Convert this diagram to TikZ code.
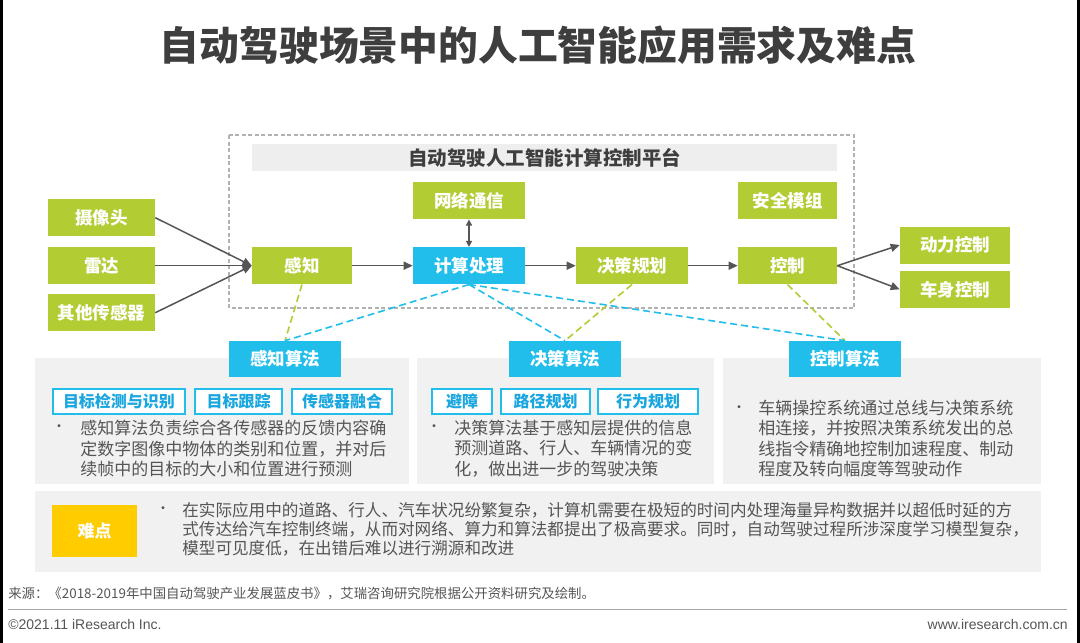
\documentclass[tikz,border=0pt]{standalone}
\usepackage{fontspec}
\setmainfont{Noto Sans CJK SC}
\newfontfamily\latinfont{Liberation Sans}
\usetikzlibrary{arrows.meta,positioning}

\definecolor{aigreen}{RGB}{178,204,52}
\definecolor{aiblue}{RGB}{33,190,236}
\definecolor{aitagblue}{RGB}{26,166,222}
\definecolor{aiyellow}{RGB}{255,204,0}
\definecolor{aipanel}{RGB}{241,241,242}
\definecolor{aibar}{RGB}{238,238,238}
\definecolor{aitext}{RGB}{85,85,85}
\definecolor{aititle}{RGB}{62,62,62}
\newcommand{\aifs}[2]{\fontsize{#1}{#2}\selectfont}

\begin{document}
\begin{tikzpicture}[x=1pt,y=-1pt,>={Triangle[length=9pt,width=8pt]},semithick]
\tikzstyle{greenbox}=[fill=aigreen,text=white,font=\bfseries\aifs{17.5}{20},minimum height=37pt,inner sep=0pt]
\tikzstyle{bluebox}=[greenbox,fill=aiblue]
\tikzstyle{algbox}=[bluebox,minimum width=112pt,minimum height=36pt]
\tikzstyle{tagbox}=[draw=aiblue,line width=1.6pt,fill=white,text=aitagblue,font=\bfseries\aifs{16}{18},minimum height=25pt,inner sep=0pt]
\tikzstyle{bodytext}=[text=aitext,font=\aifs{17}{20.5},align=left,inner sep=0pt,anchor=west]
\tikzstyle{dot}=[text=aitext,font=\aifs{14}{16},inner sep=0pt]
\tikzstyle{flow}=[->,draw=aitext,line width=1.5pt]
\tikzstyle{bluelink}=[draw=aiblue,line width=1.6pt,dash pattern=on 7pt off 4pt]
\tikzstyle{greenlink}=[draw=aigreen,line width=1.6pt,dash pattern=on 7pt off 4pt]

\useasboundingbox (0,0) rectangle (1080,643);
\fill[white] (0,0) rectangle (1080,643);
\fill[black] (0,0) rectangle (3,643);
\fill[black] (1077,0) rectangle (1080,643);

% Titulo
\node[font=\bfseries\aifs{39.8}{44},text=aititle] (title) at (538,45) {自动驾驶场景中的人工智能应用需求及难点};

% Plataforma
\draw[gray!60,line width=1.2pt,dash pattern=on 4pt off 2.5pt] (229,135) rectangle (854,308);
\fill[aibar] (252,144) rectangle (837,171);
\node[font=\bfseries\aifs{19.5}{22},text=aititle] (platform) at (544.5,157.5) {自动驾驶人工智能计算控制平台};

% Sensores
\node[greenbox,minimum width=107pt] (cam) at (101.5,217.7) {摄像头};
\node[greenbox,minimum width=107pt] (radar) at (101.5,265.7) {雷达};
\node[greenbox,minimum width=107pt] (other) at (101.5,312.7) {其他传感器};

% Modulos
\node[greenbox,minimum width=100pt] (perc) at (302,265.7) {感知};
\node[bluebox,minimum width=112pt] (comp) at (469,265.7) {计算处理};
\node[greenbox,minimum width=112pt] (net) at (469,200.7) {网络通信};
\node[greenbox,minimum width=112pt] (dec) at (632,265.7) {决策规划};
\node[greenbox,minimum width=99pt] (ctrl) at (787.5,265.7) {控制};
\node[greenbox,minimum width=99pt] (safe) at (787.5,200.7) {安全模组};
\node[greenbox,minimum width=110pt] (power) at (955,245) {动力控制};
\node[greenbox,minimum width=110pt] (body) at (955,289.3) {车身控制};

% Flechas
\draw[flow] (cam.east) -- (perc.west);
\draw[flow] (radar.east) -- (perc.west);
\draw[flow] (other.east) -- (perc.west);
\draw[flow] (perc) -- (comp);
\draw[flow] (comp) -- (dec);
\draw[flow] (dec) -- (ctrl);
\draw[flow] (ctrl.east) -- (power.west);
\draw[flow] (ctrl.east) -- (body.west);
\draw[flow,<->,>={Triangle[length=6pt,width=6pt]}] (net) -- (comp);

% Paneles
\fill[aipanel] (35,358) rectangle (409,484);
\fill[aipanel] (417,358) rectangle (714,484);
\fill[aipanel] (723,358) rectangle (1041,484);

\node[algbox] (alg1) at (285,359) {感知算法};
\node[algbox] (alg2) at (565,359) {决策算法};
\node[algbox] (alg3) at (845,359) {控制算法};

% Lineas punteadas
\draw[greenlink] (perc.south) -- (alg1.north);
\draw[greenlink] (dec.south) -- (alg2.north);
\draw[greenlink] (ctrl.south) -- (alg3.north);
\draw[bluelink] (comp.south) -- (alg1.north);
\draw[bluelink] (comp.south) -- (alg2.north);
\draw[bluelink] (comp.south) -- (alg3.north);

% Etiquetas
\node[tagbox,minimum width=132pt] (t1) at (119,401.5) {目标检测与识别};
\node[tagbox,minimum width=87pt] (t2) at (238.5,401.5) {目标跟踪};
\node[tagbox,minimum width=100pt] (t3) at (342,401.5) {传感器融合};
\node[tagbox,minimum width=60pt] (t4) at (462,401.5) {避障};
\node[tagbox,minimum width=89pt] (t5) at (545.5,401.5) {路径规划};
\node[tagbox,minimum width=100pt] (t6) at (648,401.5) {行为规划};

% Textos
\node[dot] (b1) at (59,428) {•};
\node[bodytext] (txt1) at (80,448.5) {感知算法负责综合各传感器的反馈内容确\\定数字图像中物体的类别和位置，并对后\\续帧中的目标的大小和位置进行预测};
\node[dot] (b2) at (434,428) {•};
\node[bodytext] (txt2) at (454,448.5) {决策算法基于感知层提供的信息\\预测道路、行人、车辆情况的变\\化，做出进一步的驾驶决策};
\node[dot] (b3) at (739,409) {•};
\node[bodytext] (txt3) at (758,438.5) {车辆操控系统通过总线与决策系统\\相连接，并按照决策系统发出的总\\线指令精确地控制加速程度、制动\\程度及转向幅度等驾驶动作};

% Dificultad
\fill[aipanel] (35,491) rectangle (1041,572);
\node[fill=aiyellow,text=white,font=\bfseries\aifs{17}{20},minimum width=85pt,minimum height=52pt,inner sep=0pt] (diff) at (94.5,531) {难点};
\node[dot] (b4) at (163,510) {•};
\node[bodytext,font=\aifs{16.6}{19}] (txt4) at (182,529) {在实际应用中的道路、行人、汽车状况纷繁复杂，计算机需要在极短的时间内处理海量异构数据并以超低时延的方\\式传达给汽车控制终端，从而对网络、算力和算法都提出了极高要求。同时，自动驾驶过程所涉深度学习模型复杂，\\模型可见度低，在出错后难以进行溯源和改进};

% Pie
\node[text=aitext,font=\aifs{13.4}{15},anchor=west,inner sep=0pt] (source) at (8,594) {来源：《2018-2019年中国自动驾驶产业发展蓝皮书》，艾瑞咨询研究院根据公开资料研究及绘制。};
\draw[gray!70,line width=1pt] (8,609) -- (1067,609);
\node[text=aitext,font=\latinfont\aifs{14}{16},anchor=west,inner sep=0pt] (copy) at (8,624) {©2021.11 iResearch Inc.};
\node[text=aitext,font=\latinfont\aifs{14}{16},anchor=east,inner sep=0pt] (web) at (1068,624) {www.iresearch.com.cn};
\end{tikzpicture}
\end{document}
